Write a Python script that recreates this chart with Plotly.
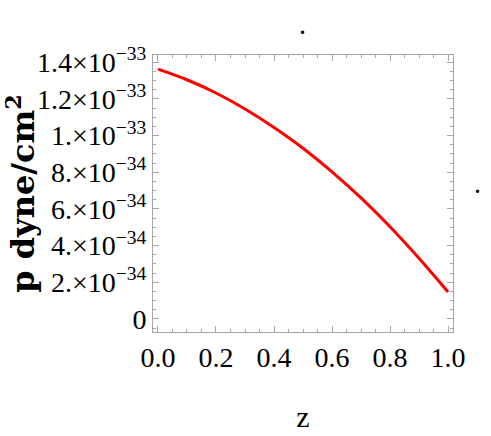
import plotly.graph_objects as go

z = [0.0, 0.1, 0.2, 0.3, 0.4, 0.5, 0.6, 0.7, 0.8, 0.9, 1.0]
p = [1.362e-33, 1.304e-33, 1.232e-33, 1.145e-33, 1.044e-33, 0.931e-33,
     0.802e-33, 0.660e-33, 0.503e-33, 0.331e-33, 0.147e-33]

y_tickvals = [0, 2e-34, 4e-34, 6e-34, 8e-34, 1e-33, 1.2e-33, 1.4e-33]
y_ticktext = ["0", "2.×10<sup>−34</sup>", "4.×10<sup>−34</sup>", "6.×10<sup>−34</sup>",
              "8.×10<sup>−34</sup>", "1.×10<sup>−33</sup>", "1.2×10<sup>−33</sup>",
              "1.4×10<sup>−33</sup>"]
x_tickvals = [0.0, 0.2, 0.4, 0.6, 0.8, 1.0]
x_ticktext = ["0.0", "0.2", "0.4", "0.6", "0.8", "1.0"]

serif = "Liberation Serif, Times New Roman, serif"
tickfont = dict(family=serif, size=28, color="black")
frame = "#a6a6a6"

fig = go.Figure()
fig.add_trace(go.Scatter(x=z, y=p, mode="lines", line=dict(color="red", width=3, shape="spline"),
                         showlegend=False, hoverinfo="skip"))

fig.update_layout(
    width=491, height=436,
    margin=dict(l=153, r=38, t=55, b=104),
    paper_bgcolor="white", plot_bgcolor="white",
    xaxis=dict(range=[-0.0172, 1.0172], tickvals=x_tickvals, ticktext=x_ticktext,
               tickfont=tickfont, showgrid=False, zeroline=False, automargin=False,
               showline=True, linecolor=frame, linewidth=1, mirror="allticks",
               ticks="inside", ticklen=6, tickcolor=frame, tickwidth=1,
               minor=dict(dtick=0.05, tick0=0, ticks="inside", ticklen=3, tickcolor=frame, showgrid=False),
               title=dict(text="z", font=dict(family=serif, size=30, color="black"), standoff=34)),
    yaxis=dict(range=[-0.71e-34, 1.439e-33], tickvals=y_tickvals, ticktext=y_ticktext,
               tickfont=tickfont, showgrid=False, zeroline=False, automargin=False,
               showline=True, linecolor=frame, linewidth=1, mirror="allticks",
               ticks="inside", ticklen=6, tickcolor=frame, tickwidth=1,
               minor=dict(dtick=5e-35, tick0=0, ticks="inside", ticklen=3, tickcolor=frame, showgrid=False),
               title=dict(text="<b>p dyne/cm<sup>2</sup></b>", font=dict(family="DejaVu Serif, serif", size=32, color="black"), standoff=6)),
    annotations=[
        dict(text="<b>.</b>", x=0.484, y=1.054, xref="paper", yref="paper", showarrow=False,
             xanchor="left", yanchor="bottom", font=dict(family=serif, size=20, color="black")),
        dict(text="<b>.</b>", x=1.068, y=0.481, xref="paper", yref="paper", showarrow=False,
             xanchor="left", yanchor="bottom", font=dict(family=serif, size=20, color="black")),
    ],
)
fig.write_html("out.html", config={"displayModeBar": False},
               post_script="document.body.style.margin='0px';")
